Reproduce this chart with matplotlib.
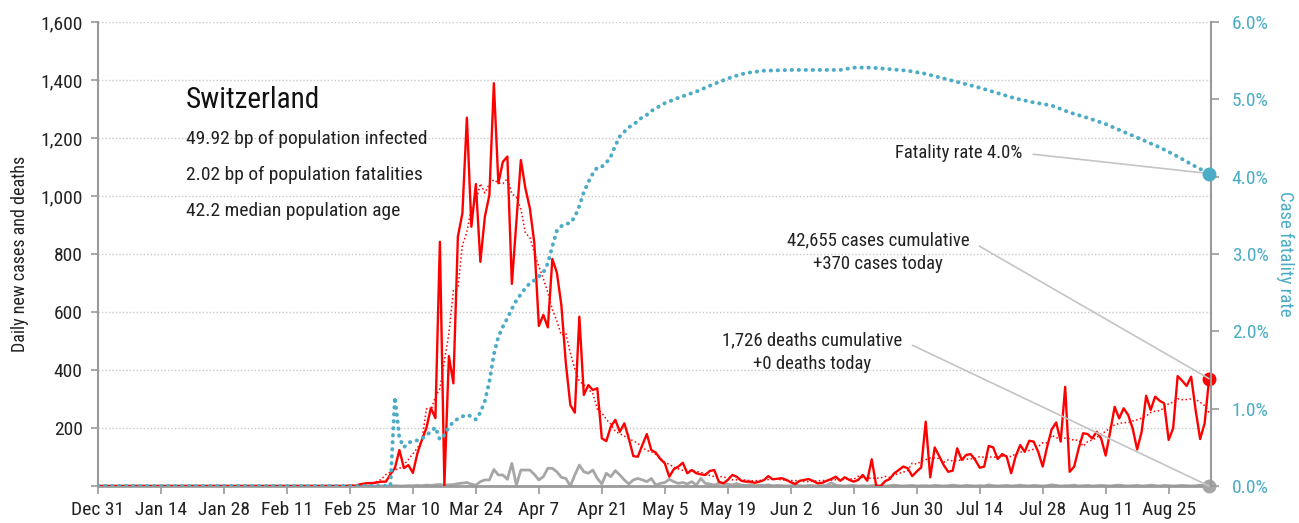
import numpy as np
import pandas as pd
import matplotlib
matplotlib.use("Agg")
import matplotlib.pyplot as plt
from matplotlib import font_manager
from matplotlib.ticker import FuncFormatter, MultipleLocator

# daily new cases from Feb 25 (zero before that)
cases = [1, 0, 5, 8, 10, 10, 12, 15,
         15, 40, 62, 124, 62, 72, 45, 113, 159, 200, 269, 234,
         842, 3, 448, 354, 860, 940, 1270, 894, 1041, 773,
         929, 1003, 1389, 1044, 1118, 1136, 697, 910, 1124, 1027,
         958, 837, 552, 590, 547, 783, 736, 624, 423, 279,
         253, 584, 314, 348, 331, 337, 164, 155, 205, 228,
         187, 216, 164, 103, 101, 141, 179, 124, 115, 93,
         78, 32, 58, 67, 80, 44, 55, 44,
         40, 38, 52, 55, 15, 9, 21, 38, 32, 18, 15, 15, 11, 15, 20, 34, 23, 25,
         27, 21, 13, 7, 18, 21, 24, 17, 9, 11, 18, 24, 32, 18, 30, 21, 15, 21,
         38, 18, 92, 0, 0, 17, 24, 44, 55, 67, 61, 34, 50, 64,
         222, 30, 133, 103, 72, 49, 53, 130, 90, 107, 110, 90, 63, 67,
         138, 133, 93, 110, 101, 44, 103, 141, 118, 156,
         153, 118, 67, 136, 195, 219, 153, 342, 49, 67,
         130, 182, 179, 164, 187, 164, 105, 187, 273, 233,
         268, 245, 199, 126, 187, 311, 262, 308, 294, 285,
         159, 199, 379, 363, 345, 377, 262, 162, 216, 370]

# daily deaths from Mar 6 (zero before that)
deaths = [1, 0, 0, 1, 1, 2, 1, 3, 2, 4, 5,
          3, 4, 5, 8, 10, 12, 6, 3, 15, 21, 21, 57, 38, 38, 23,
          78, 3, 55, 55, 55, 40, 21, 32, 61, 61, 49, 30, 26, 0,
          38, 72, 49, 44, 55, 26, 7, 44, 32, 53, 38, 21, 7, 21,
          26, 21, 15, 26, 3, 9, 12, 23, 15, 9, 12, 7, 15, 3, 26, 9, 7, 3, 9,
          10, 6, 4, 8, 3, 2, 5, 1, 3, 2, 4, 1,
          2, 1, 0, 1, 3, 1, 0, 2, 1, 0,
          1, 2, 11, 3, 1, 0, 1, 2, 0, 1,
          0, 1, 2, 0, 0, 1, 3, 1, 0, 1,
          2, 0, 1, 1, 0, 2, 1, 0, 1, 3,
          1, 0, 2, 1, 0, 1, 0, 4, 1, 0,
          1, 2, 0, 1, 3, 1, 0, 2, 1, 0,
          1, 4, 2, 0, 1, 1, 3, 0, 1, 2,
          0, 1, 2, 1, 0, 2, 3, 1, 0, 1,
          2, 0, 1, 3, 1, 0, 2, 1, 0, 1,
          2, 1, 0, 1, 3, 1, 0]

# case fatality rate (%)
cfr_dates = ["2019-12-31", "2020-03-05", "2020-03-06", "2020-03-07", "2020-03-08",
             "2020-03-09", "2020-03-10", "2020-03-11", "2020-03-12", "2020-03-13",
             "2020-03-14", "2020-03-15", "2020-03-16", "2020-03-17", "2020-03-18",
             "2020-03-19", "2020-03-20", "2020-03-21", "2020-03-22", "2020-03-23",
             "2020-03-24", "2020-03-25", "2020-03-26", "2020-03-27", "2020-03-28",
             "2020-03-29", "2020-03-30", "2020-03-31", "2020-04-01", "2020-04-02",
             "2020-04-03", "2020-04-04", "2020-04-05", "2020-04-06", "2020-04-07",
             "2020-04-08", "2020-04-09", "2020-04-10", "2020-04-11", "2020-04-12",
             "2020-04-13", "2020-04-14", "2020-04-15", "2020-04-16", "2020-04-17",
             "2020-04-18", "2020-04-19", "2020-04-20", "2020-04-21", "2020-04-22",
             "2020-04-23", "2020-04-24", "2020-04-25", "2020-04-26", "2020-04-27",
             "2020-04-28", "2020-04-29", "2020-04-30", "2020-05-01", "2020-05-02",
             "2020-05-03", "2020-05-04", "2020-05-05", "2020-05-08", "2020-05-12",
             "2020-05-16", "2020-05-20", "2020-05-23", "2020-05-27", "2020-06-02",
             "2020-06-08", "2020-06-13", "2020-06-16", "2020-06-20", "2020-06-24",
             "2020-06-28", "2020-07-02", "2020-07-06", "2020-07-10", "2020-07-14",
             "2020-07-18", "2020-07-22", "2020-07-26", "2020-07-30", "2020-08-03",
             "2020-08-07", "2020-08-11", "2020-08-15", "2020-08-19", "2020-08-23",
             "2020-08-27", "2020-08-31", "2020-09-03"]
cfr_pct = [0, 0, 1.15, 0.62, 0.50,
           0.56, 0.58, 0.59, 0.61, 0.66,
           0.70, 0.76, 0.60, 0.66, 0.76,
           0.83, 0.87, 0.90, 0.92, 0.90,
           0.86, 0.95, 1.10, 1.35, 1.70,
           1.93, 2.06, 2.17, 2.29, 2.40,
           2.48, 2.56, 2.62, 2.66, 2.71,
           2.76, 2.88, 3.10, 3.30, 3.36,
           3.39, 3.40, 3.48, 3.62, 3.80,
           3.93, 4.04, 4.12, 4.13, 4.18,
           4.26, 4.40, 4.52, 4.58, 4.64,
           4.67, 4.72, 4.77, 4.80, 4.85,
           4.88, 4.92, 4.95, 5.02, 5.10,
           5.20, 5.29, 5.34, 5.37, 5.38,
           5.38, 5.38, 5.41, 5.41, 5.39,
           5.37, 5.33, 5.27, 5.21, 5.15,
           5.08, 5.01, 4.96, 4.92, 4.83,
           4.76, 4.68, 4.58, 4.48, 4.38,
           4.26, 4.13, 4.04]

country = "Switzerland"
facts = ["49.92 bp of population infected",
         "2.02 bp of population fatalities",
         "42.2 median population age"]

RED = "#ff0000"
GREY = "#a6a6a6"
BLUE = "#4bacc6"
AXIS = "#9a9a9a"

# pick a narrow font if there is one
names = {f.name for f in font_manager.fontManager.ttflist}
font = "DejaVu Sans"
stretch = "normal"
for fam in ["Liberation Sans Narrow", "Roboto Condensed", "Open Sans Condensed"]:
    if fam in names:
        font = fam
        break
else:
    for f in font_manager.fontManager.ttflist:
        if f.stretch in ("condensed", "semi-condensed", 75, 87.5) and f.name in ("Roboto", "Open Sans", "DejaVu Sans", "Noto Sans"):
            font = f.name
            stretch = "condensed"
            break
plt.rcParams["font.family"] = font
plt.rcParams["font.stretch"] = stretch

# build daily series from Dec 31
case_s = pd.Series(cases, index=pd.date_range("2020-02-25", periods=len(cases)), dtype=float)
days = pd.date_range("2019-12-31", case_s.index[-1])
case_s = case_s.reindex(days, fill_value=0)
death_s = pd.Series(deaths, index=pd.date_range("2020-03-06", periods=len(deaths)), dtype=float)
death_s = death_s.reindex(days, fill_value=0)
case_avg = case_s.rolling(7, center=True, min_periods=1).mean()
cfr_x = pd.to_datetime(cfr_dates)
cfr_y = np.array(cfr_pct) / 100

W, H = 1299, 523
fig = plt.figure(figsize=(W / 100, H / 100), dpi=100)
ax = fig.add_axes([98 / W, 1 - 486 / H, (1211 - 98) / W, (486 - 22) / H])
ax2 = ax.twinx()

ax.yaxis.grid(True, color="#c8c8c8", linestyle=(0, (1, 1.5)), linewidth=1)
ax.set_axisbelow(True)

ax.plot(days, case_s, color=RED, lw=1.7, zorder=3)
ax.plot(days, case_avg, color=RED, lw=1.1, linestyle=(0, (1, 1.6)), zorder=3)
ax.plot(days, death_s, color=GREY, lw=2, zorder=2)
ax.plot(days[-1], case_s.iloc[-1], "o", color=RED, ms=9, zorder=5, clip_on=False)
ax.plot(days[-1], death_s.iloc[-1], "o", color=GREY, ms=9, zorder=5, clip_on=False)

ax2.plot(cfr_x, cfr_y, color=BLUE, lw=2.8, linestyle=(0, (0.1, 1.7)),
         dash_capstyle="round", solid_capstyle="round", zorder=4)
ax2.plot(cfr_x[-1], cfr_y[-1], "o", color=BLUE, ms=9, zorder=5, clip_on=False)

ax.set_xlim(days[0], days[-1] + pd.Timedelta(hours=10))
ax.set_ylim(0, 1600)
ax2.set_ylim(0, 0.06)

ticks = pd.date_range("2019-12-31", "2020-08-25", freq="14D")
ax.set_xticks(ticks)
ax.set_xticklabels([f"{d:%b} {d.day}" for d in ticks])
ax.yaxis.set_major_locator(MultipleLocator(200))
ax.yaxis.set_major_formatter(FuncFormatter(lambda v, p: "" if v == 0 else f"{v:,.0f}"))
ax2.yaxis.set_major_locator(MultipleLocator(0.01))
ax2.yaxis.set_major_formatter(FuncFormatter(lambda v, p: f"{v * 100:.1f}%"))

for a in (ax, ax2):
    a.spines["top"].set_visible(False)
ax.spines["right"].set_visible(False)
ax2.spines["left"].set_visible(False)
ax2.spines["bottom"].set_visible(False)
ax.spines["left"].set_color(AXIS)
ax.spines["left"].set_linewidth(1.5)
ax.spines["bottom"].set_color(AXIS)
ax.spines["bottom"].set_linewidth(2)
ax2.spines["right"].set_color(AXIS)
ax2.spines["right"].set_linewidth(1.5)

ax.tick_params(axis="y", length=5, width=1.2, color=AXIS, pad=6, labelsize=14, labelcolor="#222222")
ax.tick_params(axis="x", length=6, width=1.2, color=AXIS, pad=5, labelsize=14, labelcolor="#222222")
ax2.tick_params(axis="y", length=6, width=1.2, color=AXIS, pad=9, labelsize=14, labelcolor=BLUE)

ax.set_ylabel("Daily new cases and deaths", fontsize=13, color="#222222", labelpad=8)
ax2.set_ylabel("Case fatality rate", fontsize=13.5, color=BLUE, rotation=270, labelpad=18)

# country box
fig.text(186 / W, 1 - 100 / H, country, fontsize=21, color="#111111", va="center", ha="left")
for i, line in enumerate(facts):
    fig.text(186 / W, 1 - (139 + 36 * i) / H, line, fontsize=14, color="#222222", va="center", ha="left")

# callouts
line_style = dict(arrowstyle="-", color="#c4c4c4", lw=1.2, shrinkA=6, shrinkB=0)
ax2.annotate("Fatality rate 4.0%", xy=(cfr_x[-1], cfr_y[-1]), xytext=(1022, H - 153),
             textcoords="figure pixels", ha="right", va="center", fontsize=13.5, color="#222222",
             arrowprops=dict(line_style, relpos=(1, 0.5)))
ax2.annotate(f"{42655:,} cases cumulative\n+{int(case_s.iloc[-1])} cases today",
             xy=(days[-1], case_s.iloc[-1] / 1600 * 0.06), xytext=(878, H - 252),
             textcoords="figure pixels", ha="center", va="center", fontsize=13.5, color="#222222",
             linespacing=1.4, arrowprops=dict(line_style, relpos=(1, 0.78)))
ax2.annotate(f"{1726:,} deaths cumulative\n+{int(death_s.iloc[-1])} deaths today",
             xy=(days[-1], 0), xytext=(812, H - 352),
             textcoords="figure pixels", ha="center", va="center", fontsize=13.5, color="#222222",
             linespacing=1.4, arrowprops=dict(line_style, relpos=(1, 0.78)))

fig.savefig("out.png", dpi=100)
